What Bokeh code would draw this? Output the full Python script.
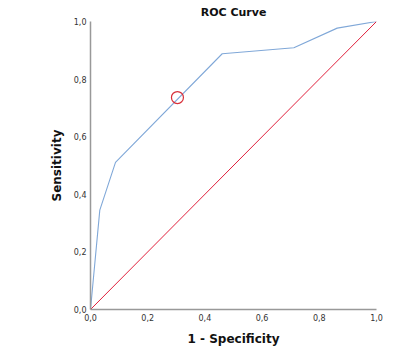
from bokeh.plotting import figure
from bokeh.models import Range1d, FixedTicker, CustomJSTickFormatter, ColumnDataSource
from bokeh.embed import file_html
from bokeh.resources import INLINE

# ROC curve (1 - specificity, sensitivity)
fpr = [0.0, 0.0325, 0.0874, 0.4605, 0.711, 0.8626, 1.0]
tpr = [0.0, 0.345, 0.511, 0.888, 0.909, 0.977, 1.0]
# reference diagonal
ref_x = [0.0, 1.0]
ref_y = [0.0, 1.0]
# highlighted cut-off point
cut_x = [0.304]
cut_y = [0.736]
ticks = [0.0, 0.2, 0.4, 0.6, 0.8, 1.0]

p = figure(width=420, height=350, output_backend="svg", toolbar_location=None,
           x_range=Range1d(0, 1), y_range=Range1d(0, 1),
           min_border_left=90, min_border_right=44, min_border_top=0, min_border_bottom=41)
p.outline_line_color = None
p.xgrid.visible = False
p.ygrid.visible = False
p.background_fill_color = "white"
p.border_fill_color = "white"

p.title.text = "ROC Curve"
p.title.align = "center"
p.title.text_font = "DejaVu Sans"
p.title.text_font_size = "11px"
p.title.text_font_style = "bold"
p.title.text_color = "#111111"
p.title.standoff = 6

src = ColumnDataSource(dict(x=fpr, y=tpr))
p.line("x", "y", source=src, line_color="#80a8d8", line_width=1.1)
p.line(ref_x, ref_y, line_color="#e0203c", line_width=1.0)
p.scatter(cut_x, cut_y, marker="circle", size=12, fill_color=None,
          line_color="#d8303a", line_width=1.2)

fmt = CustomJSTickFormatter(code="return tick.toFixed(1).replace('.', ',');")
for ax, lab in ((p.xaxis[0], "1 - Specificity"), (p.yaxis[0], "Sensitivity")):
    ax.ticker = FixedTicker(ticks=ticks)
    ax.formatter = fmt
    ax.axis_label = lab
    ax.axis_label_text_font = "DejaVu Sans"
    ax.axis_label_text_font_size = "12px"
    ax.axis_label_text_font_style = "bold"
    ax.axis_label_text_color = "#111111"
    ax.major_label_text_font = "DejaVu Sans"
    ax.major_label_text_font_size = "8px"
    ax.major_label_text_color = "#333333"
    ax.axis_line_color = "#999999"
    ax.axis_line_width = 1.5
    ax.major_tick_line_color = None
    ax.minor_tick_line_color = None
    ax.major_tick_out = 0
    ax.major_tick_in = 0
    ax.major_label_standoff = 4
p.xaxis[0].axis_label_standoff = 8
p.yaxis[0].axis_label_standoff = 7

open("out.html", "w").write(file_html(p, INLINE))
